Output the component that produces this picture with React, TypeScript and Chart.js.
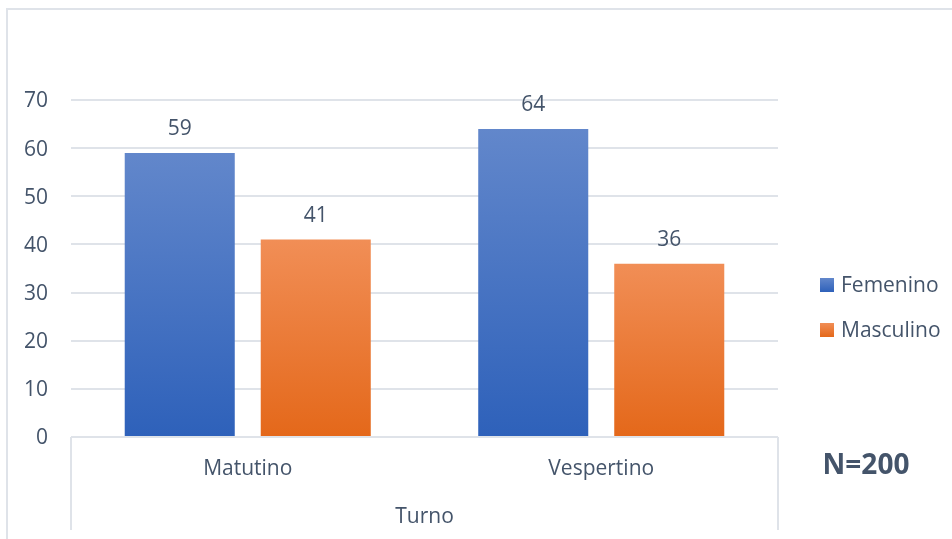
import { useEffect, useRef } from "react";
import { Chart, registerables } from "chart.js";

Chart.register(...registerables);

// Chart data
const categories = ["Matutino", "Vespertino"];
const seriesNames = ["Femenino", "Masculino"];
const femenino = [59, 64];
const masculino = [41, 36];
const yMin = 0;
const yMax = 70;
const yStep = 10;
const axisTitle = "Turno";
const sampleNote = "N=200";

// Styling
const FONT = "'Open Sans', Lato, sans-serif";
const FONT_SIZE = 21;
const TEXT = "#44546a";
const RULE = "#dfe3e9";
const blueStops = ["#6287cb", "#2e61ba"];
const orangeStops = ["#f18e56", "#e4681a"];
const seriesStops = [blueStops, orangeStops];

// Vertical gradient spanning each bar from its top to the zero line
function barFill(stops: string[]) {
  return (ctx: any) => {
    const chart = ctx.chart;
    const y = chart.scales?.y;
    if (!chart.chartArea || !y || typeof ctx.raw !== "number") return stops[1];
    const top = y.getPixelForValue(ctx.raw);
    const base = y.getPixelForValue(0);
    const g = chart.ctx.createLinearGradient(0, top, 0, base);
    g.addColorStop(0, stops[0]);
    g.addColorStop(1, stops[1]);
    return g;
  };
}

const decorations = {
  id: "decorations",
  beforeDraw(chart: any) {
    const { ctx, width, height, chartArea } = chart;
    ctx.save();
    ctx.strokeStyle = RULE;
    ctx.lineWidth = 2;
    // outer frame (top and left edges)
    ctx.beginPath();
    ctx.moveTo(7, height);
    ctx.lineTo(7, 9);
    ctx.lineTo(width, 9);
    ctx.stroke();
    // side rules of the category axis band
    ctx.beginPath();
    for (const x of [chartArea.left, chartArea.right]) {
      ctx.moveTo(x, chartArea.bottom);
      ctx.lineTo(x, chartArea.bottom + 93);
    }
    ctx.stroke();
    ctx.restore();
  },
  afterDatasetsDraw(chart: any) {
    const { ctx, chartArea } = chart;
    ctx.save();
    ctx.fillStyle = TEXT;
    ctx.font = `${FONT_SIZE}px ${FONT}`;
    ctx.textAlign = "center";
    ctx.textBaseline = "middle";
    // value labels above each bar
    chart.data.datasets.forEach((ds: any, di: number) => {
      const meta = chart.getDatasetMeta(di);
      meta.data.forEach((bar: any, i: number) => {
        ctx.fillText(String(ds.data[i]), bar.x, bar.y - 24);
      });
    });

    // legend
    const lx = chartArea.right + 42;
    seriesNames.forEach((name, i) => {
      const cy = 285 + i * 45;
      const g = ctx.createLinearGradient(0, cy - 7, 0, cy + 7);
      g.addColorStop(0, seriesStops[i][0]);
      g.addColorStop(1, seriesStops[i][1]);
      ctx.fillStyle = g;
      ctx.fillRect(lx, cy - 7, 14, 14);
      ctx.fillStyle = TEXT;
      ctx.textAlign = "left";
      ctx.fillText(name, lx + 21, cy + 1);
    });

    // sample size note
    ctx.font = `bold 28px ${FONT}`;
    ctx.textAlign = "center";
    ctx.fillText(sampleNote, chartArea.right + 88, 466);
    ctx.restore();
  },
};

export default function App() {
  const canvasRef = useRef<HTMLCanvasElement | null>(null);

  useEffect(() => {
    const canvas = canvasRef.current;
    if (!canvas) return;
    const chart = new Chart(canvas, {
      type: "bar",
      data: {
        labels: categories,
        datasets: [
          {
            label: seriesNames[0],
            data: femenino,
            backgroundColor: barFill(blueStops),
            categoryPercentage: 0.7695,
            barPercentage: 0.809,
          },
          {
            label: seriesNames[1],
            data: masculino,
            backgroundColor: barFill(orangeStops),
            categoryPercentage: 0.7695,
            barPercentage: 0.809,
          },
        ],
      },
      options: {
        responsive: false,
        animation: false,
        devicePixelRatio: 1,
        layout: { padding: { top: 100, left: 0, right: 174, bottom: 0 } },
        plugins: {
          legend: { display: false },
          tooltip: { enabled: false },
        },
        scales: {
          x: {
            grid: { display: false, drawTicks: false },
            border: { display: false },
            ticks: {
              padding: 19.5,
              color: TEXT,
              font: { family: FONT, size: FONT_SIZE },
            },
            title: {
              display: true,
              text: axisTitle,
              color: TEXT,
              font: { family: FONT, size: FONT_SIZE },
              padding: { top: 0, bottom: 9.5 },
            },
            afterFit(scale: any) {
              scale.height = 102;
            },
          },
          y: {
            min: yMin,
            max: yMax,
            grid: { color: RULE, lineWidth: 2, drawTicks: false },
            border: { display: false },
            ticks: {
              stepSize: yStep,
              padding: 23,
              labelOffset: 1.5,
              color: TEXT,
              font: { family: FONT, size: FONT_SIZE },
            },
            afterFit(scale: any) {
              scale.width = 71;
            },
          },
        },
      },
      plugins: [decorations],
    });
    return () => chart.destroy();
  }, []);

  return (
    <div style={{ position: "fixed", left: 0, top: 0, width: 952, height: 539, background: "#fff" }}>
      <canvas ref={canvasRef} width={952} height={539} />
    </div>
  );
}
